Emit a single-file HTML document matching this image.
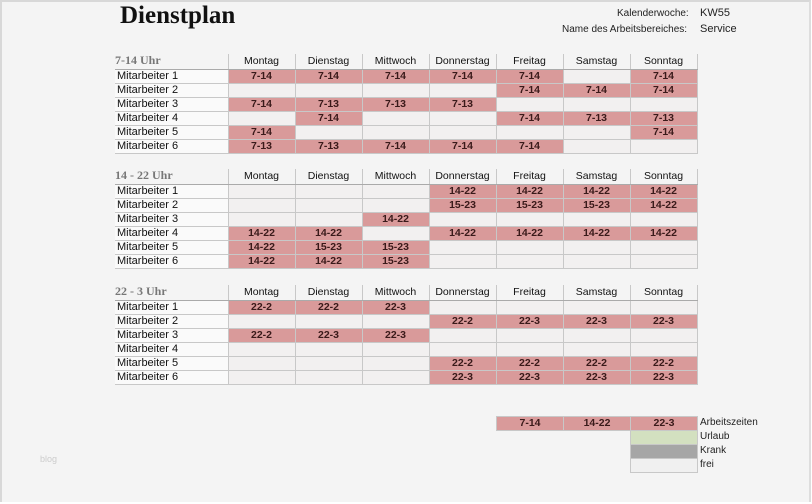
<!DOCTYPE html>
<html><head><meta charset="utf-8"><style>
body{margin:0;width:812px;height:504px;background:#fff;position:relative;overflow:hidden;font-family:"Liberation Sans","DejaVu Sans",sans-serif}
#pg{position:absolute;left:0;top:0;width:807px;height:500px;background:#f4f4f4;border-top:2px solid #d8d8d8;border-left:2px solid #d8d8d8;border-right:2px solid #ddd}
.t{position:absolute;font-size:11px;color:#222}
h1{position:absolute;left:120px;top:2px;margin:0;font-family:"Liberation Serif",serif;font-size:25px;font-weight:bold;color:#111}
table{position:absolute;left:115px;border-collapse:collapse;table-layout:fixed;font-size:10.5px}
td{height:13px;padding:0;border:1px solid #c8c8c8;text-align:center;color:#3a1a1a;font-weight:bold;line-height:13px;background:#f2f0f0;overflow:hidden;white-space:nowrap}
td.n{text-align:left;font-weight:normal;color:#111;background:#fafafa;padding-left:2px;border-left:none;font-size:11px}
td.p{background:#d99a9a}
tr.h td{background:transparent;font-weight:normal;color:#111;border-top:none;border-bottom:1px solid #aaa;height:13px;line-height:15px;font-size:10.5px}
tr.h td.s{text-align:left;font-family:"Liberation Serif",serif;font-weight:bold;color:#777;font-size:12px;border-left:none;border-bottom:1px solid #aaa;line-height:12px;vertical-align:top}
col.a{width:113px}col.b{width:67px}
</style></head><body><div id="pg"></div>
<h1>Dienstplan</h1>
<div class="t" style="left:617px;top:8px;font-size:10px">Kalenderwoche:</div>
<div class="t" style="left:700px;top:7px">KW55</div>
<div class="t" style="left:562px;top:24px;font-size:10px">Name des Arbeitsbereiches:</div>
<div class="t" style="left:700px;top:23px">Service</div>

<table style="top:54px"><colgroup><col class="a"><col class="b"><col class="b"><col class="b"><col class="b"><col class="b"><col class="b"><col class="b"></colgroup>
<tr class="h"><td class="s">7-14 Uhr</td><td>Montag</td><td>Dienstag</td><td>Mittwoch</td><td>Donnerstag</td><td>Freitag</td><td>Samstag</td><td>Sonntag</td></tr>
<tr><td class="n">Mitarbeiter 1</td><td class="p">7-14</td><td class="p">7-14</td><td class="p">7-14</td><td class="p">7-14</td><td class="p">7-14</td><td></td><td class="p">7-14</td></tr>
<tr><td class="n">Mitarbeiter 2</td><td></td><td></td><td></td><td></td><td class="p">7-14</td><td class="p">7-14</td><td class="p">7-14</td></tr>
<tr><td class="n">Mitarbeiter 3</td><td class="p">7-14</td><td class="p">7-13</td><td class="p">7-13</td><td class="p">7-13</td><td></td><td></td><td></td></tr>
<tr><td class="n">Mitarbeiter 4</td><td></td><td class="p">7-14</td><td></td><td></td><td class="p">7-14</td><td class="p">7-13</td><td class="p">7-13</td></tr>
<tr><td class="n">Mitarbeiter 5</td><td class="p">7-14</td><td></td><td></td><td></td><td></td><td></td><td class="p">7-14</td></tr>
<tr><td class="n">Mitarbeiter 6</td><td class="p">7-13</td><td class="p">7-13</td><td class="p">7-14</td><td class="p">7-14</td><td class="p">7-14</td><td></td><td></td></tr>
</table>

<table style="top:169px"><colgroup><col class="a"><col class="b"><col class="b"><col class="b"><col class="b"><col class="b"><col class="b"><col class="b"></colgroup>
<tr class="h"><td class="s">14 - 22 Uhr</td><td>Montag</td><td>Dienstag</td><td>Mittwoch</td><td>Donnerstag</td><td>Freitag</td><td>Samstag</td><td>Sonntag</td></tr>
<tr><td class="n">Mitarbeiter 1</td><td></td><td></td><td></td><td class="p">14-22</td><td class="p">14-22</td><td class="p">14-22</td><td class="p">14-22</td></tr>
<tr><td class="n">Mitarbeiter 2</td><td></td><td></td><td></td><td class="p">15-23</td><td class="p">15-23</td><td class="p">15-23</td><td class="p">14-22</td></tr>
<tr><td class="n">Mitarbeiter 3</td><td></td><td></td><td class="p">14-22</td><td></td><td></td><td></td><td></td></tr>
<tr><td class="n">Mitarbeiter 4</td><td class="p">14-22</td><td class="p">14-22</td><td></td><td class="p">14-22</td><td class="p">14-22</td><td class="p">14-22</td><td class="p">14-22</td></tr>
<tr><td class="n">Mitarbeiter 5</td><td class="p">14-22</td><td class="p">15-23</td><td class="p">15-23</td><td></td><td></td><td></td><td></td></tr>
<tr><td class="n">Mitarbeiter 6</td><td class="p">14-22</td><td class="p">14-22</td><td class="p">15-23</td><td></td><td></td><td></td><td></td></tr>
</table>

<table style="top:285px"><colgroup><col class="a"><col class="b"><col class="b"><col class="b"><col class="b"><col class="b"><col class="b"><col class="b"></colgroup>
<tr class="h"><td class="s">22 - 3 Uhr</td><td>Montag</td><td>Dienstag</td><td>Mittwoch</td><td>Donnerstag</td><td>Freitag</td><td>Samstag</td><td>Sonntag</td></tr>
<tr><td class="n">Mitarbeiter 1</td><td class="p">22-2</td><td class="p">22-2</td><td class="p">22-3</td><td></td><td></td><td></td><td></td></tr>
<tr><td class="n">Mitarbeiter 2</td><td></td><td></td><td></td><td class="p">22-2</td><td class="p">22-3</td><td class="p">22-3</td><td class="p">22-3</td></tr>
<tr><td class="n">Mitarbeiter 3</td><td class="p">22-2</td><td class="p">22-3</td><td class="p">22-3</td><td></td><td></td><td></td><td></td></tr>
<tr><td class="n">Mitarbeiter 4</td><td></td><td></td><td></td><td></td><td></td><td></td><td></td></tr>
<tr><td class="n">Mitarbeiter 5</td><td></td><td></td><td></td><td class="p">22-2</td><td class="p">22-2</td><td class="p">22-2</td><td class="p">22-2</td></tr>
<tr><td class="n">Mitarbeiter 6</td><td></td><td></td><td></td><td class="p">22-3</td><td class="p">22-3</td><td class="p">22-3</td><td class="p">22-3</td></tr>
</table>

<table style="top:416px;left:496px;width:202px"><colgroup><col class="b"><col class="b"><col class="b"></colgroup>
<tr><td class="p">7-14</td><td class="p">14-22</td><td class="p">22-3</td></tr>
<tr><td style="border:none;background:transparent"></td><td style="border:none;background:transparent"></td><td style="background:#d3e0c0"></td></tr>
<tr><td style="border:none;background:transparent"></td><td style="border:none;background:transparent"></td><td style="background:#a6a6a6"></td></tr>
<tr><td style="border:none;background:transparent"></td><td style="border:none;background:transparent"></td><td style="background:#f0f0f0"></td></tr>
</table>
<div class="t" style="left:700px;top:417px;font-size:10px">Arbeitszeiten</div>
<div class="t" style="left:700px;top:431px;font-size:10px">Urlaub</div>
<div class="t" style="left:700px;top:445px;font-size:10px">Krank</div>
<div class="t" style="left:700px;top:459px;font-size:10px">frei</div>
<div class="t" style="left:40px;top:454px;font-size:9px;color:#ccc">blog</div>
</body></html>
